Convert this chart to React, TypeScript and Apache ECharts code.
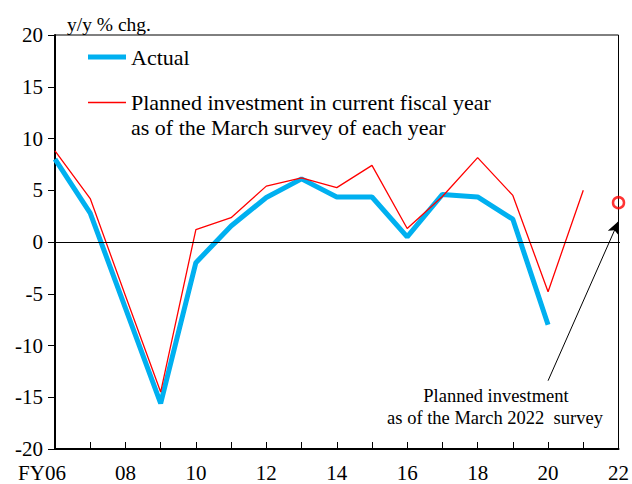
import React, { useEffect, useRef } from "react";
import * as echarts from "echarts";

const years = ["FY06", "07", "08", "09", "10", "11", "12", "13", "14", "15", "16", "17", "18", "19", "20", "21", "22"];
const actual = [8.0, 2.8, -6.4, -15.6, -2.0, 1.55, 4.3, 6.1, 4.35, 4.35, 0.5, 4.6, 4.35, 2.2, -8.0, null, null];
const planned = [8.8, 4.2, -5.2, -14.5, 1.2, 2.35, 5.4, 6.2, 5.25, 7.4, 1.3, 4.4, 8.15, 4.5, -4.8, 5.0, null];
const planned2022 = [null, null, null, null, null, null, null, null, null, null, null, null, null, null, null, null, 3.8];
const yMin = -20;
const yMax = 20;
const yStep = 5;

const SERIF = "'Liberation Serif', 'Times New Roman', serif";
const ACTUAL_NAME = "Actual";
const PLANNED_NAME = "Planned investment in current fiscal year as of the March survey of each year";

export default function App() {
  const ref = useRef<HTMLDivElement>(null);

  useEffect(() => {
    if (!ref.current) return;
    const chart = echarts.init(ref.current, null, { renderer: "svg" });
    chart.setOption({
      animation: false,
      backgroundColor: "#ffffff",
      textStyle: { fontFamily: SERIF, color: "#000" },
      grid: {
        left: 55,
        right: 12,
        top: 35,
        bottom: 35,
        show: true,
        borderColor: "#000",
        borderWidth: 1,
      },
      legend: [
        {
          data: [{ name: ACTUAL_NAME, icon: "rect" }],
          left: 88,
          top: 46,
          padding: 0,
          itemWidth: 38,
          itemHeight: 5,
          selectedMode: false,
          textStyle: { fontSize: 22, fontFamily: SERIF, color: "#000" },
        },
        {
          data: [{ name: PLANNED_NAME, icon: "rect" }],
          left: 88,
          top: 65,
          padding: 0,
          itemWidth: 38,
          itemHeight: 1.3,
          selectedMode: false,
          formatter: () => "\nPlanned investment in current fiscal year\nas of the March survey of each year",
          textStyle: {
            fontSize: 22,
            fontFamily: SERIF,
            color: "#000",
            lineHeight: 25,
          },
        },
      ],
      xAxis: {
        type: "category",
        data: years,
        boundaryGap: false,
        axisLine: { onZero: false, lineStyle: { color: "#000", width: 2 } },
        axisTick: { show: true, inside: true, length: 7, interval: 0, lineStyle: { color: "#000", width: 1 } },
        axisLabel: {
          interval: 1,
          margin: 13,
          fontSize: 21,
          fontFamily: SERIF,
          color: "#000",
          formatter: (v: string, i: number) => (i === 0 ? "{f|" + v + "}" : v),
          rich: { f: { fontSize: 21, fontFamily: SERIF, color: "#000", padding: [0, 26, 0, 0] } },
        },
        splitLine: { show: false },
      },
      yAxis: {
        type: "value",
        min: yMin,
        max: yMax,
        interval: yStep,
        name: "y/y % chg.",
        nameLocation: "end",
        nameGap: 1,
        nameTextStyle: { fontSize: 19.5, fontFamily: SERIF, color: "#000", align: "left", padding: [0, 0, 0, 12] },
        axisLine: { show: true, lineStyle: { color: "#000", width: 2 } },
        axisTick: { show: true, inside: false, length: 7, lineStyle: { color: "#000", width: 1 } },
        axisLabel: { margin: 12, fontSize: 21, fontFamily: SERIF, color: "#000" },
        splitLine: { show: false },
      },
      graphic: [
        {
          type: "text",
          x: 496,
          y: 396,
          silent: true,
          style: { text: "Planned investment", fontSize: 18.5, fontFamily: SERIF, fill: "#000", align: "center", verticalAlign: "middle" },
        },
        {
          type: "text",
          x: 495,
          y: 418,
          silent: true,
          style: { text: "as of the March 2022  survey", fontSize: 18.5, fontFamily: SERIF, fill: "#000", align: "center", verticalAlign: "middle" },
        },
      ],
      series: [
        {
          name: PLANNED_NAME,
          type: "line",
          data: planned,
          symbol: "none",
          lineStyle: { color: "#FF0000", width: 1.3 },
          itemStyle: { color: "#FF0000" },
          z: 3,
          markLine: {
            silent: true,
            symbol: ["none", "none"],
            label: { show: false },
            lineStyle: { color: "#000", width: 1, type: "solid" },
            data: [[{ yAxis: 0, x: 55 }, { yAxis: 0, x: 620 }]],
          },
        },
        {
          name: ACTUAL_NAME,
          type: "line",
          data: actual,
          symbol: "none",
          lineStyle: { color: "#00B0F0", width: 5 },
          itemStyle: { color: "#00B0F0" },
          z: 2,
        },
        {
          name: "Planned 2022",
          type: "scatter",
          data: planned2022,
          symbol: "circle",
          symbolSize: 11,
          itemStyle: { color: "rgba(255,255,255,0)", borderColor: "#FF0000", borderWidth: 2.5 },
          z: 4,
          markLine: {
            silent: true,
            symbol: ["none", "arrow"],
            symbolSize: [9, 13],
            label: { show: false },
            lineStyle: { color: "#000", width: 1, type: "solid" },
            data: [[{ coord: ["20", -13.4] }, { coord: ["22", 2.0] }]],
          },
        },
      ],
    });
    return () => chart.dispose();
  }, []);

  return <div ref={ref} style={{ position: "fixed", left: 0, top: 0, width: 632, height: 484 }} />;
}
